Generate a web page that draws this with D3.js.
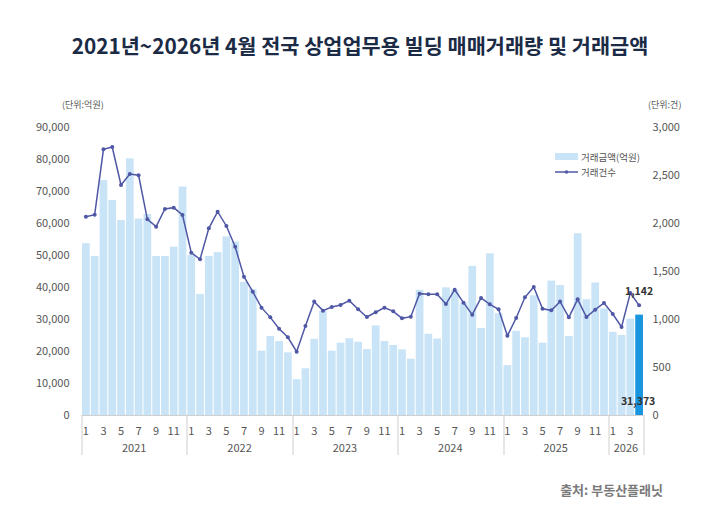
<!DOCTYPE html>
<html>
<head>
<meta charset="utf-8">
<script src="https://cdn.jsdelivr.net/npm/d3@7"></script>
<style>
  body { margin: 0; background: #fff; }
  text { font-family: "Noto Sans CJK KR", "Noto Sans", sans-serif; }
</style>
</head>
<body>
<div id="chart-area"></div>
<script>
// 연도 / 월 구분
const YEARS = ["2021", "2022", "2023", "2024", "2025", "2026"]
const MONTHS_IN_YEAR = [12, 12, 12, 12, 12, 4]

// 거래금액(억원)
const AMOUNTS = [
  53700, 49700, 73400, 67200, 60900, 80200, 61400, 62800, 49700, 49700, 52600, 71400,
  50000, 37800, 49700, 50900, 55800, 54200, 41600, 39300, 20100, 24700, 23100, 19600,
  11200, 14600, 23800, 32600, 20100, 22600, 24000, 22900, 20600, 28000, 23100, 21900,
  20500, 17600, 39100, 25400, 23900, 39900, 39100, 35100, 46600, 27200, 50500, 31800,
  15600, 26300, 24300, 37400, 22600, 42000, 40600, 24700, 56800, 36200, 41400, 33300,
  26000, 25000, 30100, 31373
]

// 거래건수
const COUNTS = [
  2066, 2087, 2767, 2792, 2396, 2510, 2497, 2038, 1962, 2146, 2160, 2083,
  1691, 1622, 1945, 2118, 1969, 1753, 1441, 1285, 1118, 1017, 899, 809,
  660, 927, 1181, 1087, 1125, 1146, 1191, 1101, 1021, 1070, 1118, 1080,
  1007, 1024, 1264, 1257, 1257, 1156, 1305, 1170, 1045, 1219, 1153, 1101,
  826, 1010, 1226, 1333, 1107, 1090, 1181, 1017, 1205, 1021, 1097, 1167,
  1052, 917, 1271, 1142
]

const LEFT_TICKS = [0, 10000, 20000, 30000, 40000, 50000, 60000, 70000, 80000, 90000]
const RIGHT_TICKS = [0, 500, 1000, 1500, 2000, 2500, 3000]

const TITLE = "2021년~2026년 4월 전국 상업업무용 빌딩 매매거래량 및 거래금액"

const SVG_WIDTH = 720
const SVG_HEIGHT = 527
const MARGIN = { left: 81.5, right: 76.5, top: 127, bottom: 112 }
const G_WIDTH = SVG_WIDTH - MARGIN.left - MARGIN.right
const G_HEIGHT = SVG_HEIGHT - MARGIN.top - MARGIN.bottom

// 카테고리 (연-월)
const categories = []
YEARS.forEach((yr, i) => {
  for (let m = 1; m <= MONTHS_IN_YEAR[i]; m++) categories.push({ year: yr, month: m, key: yr + "-" + m })
})
const data = categories.map((c, i) => ({ ...c, amount: AMOUNTS[i], count: COUNTS[i] }))

const svg = d3.select("#chart-area").append("svg")
  .attr("width", SVG_WIDTH)
  .attr("height", SVG_HEIGHT)

svg.append("text")
  .attr("x", SVG_WIDTH / 2)
  .attr("y", 54)
  .attr("text-anchor", "middle")
  .attr("font-size", "20.8px")
  .attr("font-weight", "bold")
  .attr("fill", "#1b2b45")
  .text(TITLE)

const g = svg.append("g")
  .attr("transform", `translate(${MARGIN.left}, ${MARGIN.top})`)

const x = d3.scaleBand()
  .domain(data.map(d => d.key))
  .range([0, G_WIDTH])
  .paddingInner(0.12)
  .paddingOuter(0.06)

const yLeft = d3.scaleLinear().domain([0, 90000]).range([G_HEIGHT, 0])
const yRight = d3.scaleLinear().domain([0, 3000]).range([G_HEIGHT, 0])

// bars
g.selectAll("rect.bar").data(data).enter().append("rect")
  .attr("class", "bar")
  .attr("x", d => x(d.key))
  .attr("width", x.bandwidth())
  .attr("y", d => yLeft(d.amount))
  .attr("height", d => G_HEIGHT - yLeft(d.amount))
  .attr("fill", (d, i) => i === data.length - 1 ? "#1a95df" : "#c9e4f7")

// axes
const leftAxis = d3.axisLeft(yLeft).tickValues(LEFT_TICKS).tickSize(0).tickPadding(12)
  .tickFormat(d3.format(","))
g.append("g").attr("class", "y axis").call(leftAxis)

const rightAxis = d3.axisRight(yRight).tickValues(RIGHT_TICKS).tickSize(0).tickPadding(9)
  .tickFormat(d3.format(","))
g.append("g").attr("class", "y axis").attr("transform", `translate(${G_WIDTH}, 0)`).call(rightAxis)

g.selectAll(".y.axis .domain").remove()
g.selectAll(".y.axis text")
  .attr("font-size", "11px")
  .attr("fill", "#555")
  .style("font-family", "'Noto Sans CJK KR', sans-serif")

// baseline
g.append("line")
  .attr("x1", 0).attr("x2", G_WIDTH)
  .attr("y1", G_HEIGHT + 0.5).attr("y2", G_HEIGHT + 0.5)
  .attr("stroke", "#cfcfcf")

// month labels (odd months)
g.selectAll("text.month").data(data.filter(d => d.month % 2 === 1)).enter().append("text")
  .attr("class", "month")
  .attr("x", d => x(d.key) + x.bandwidth() / 2)
  .attr("y", G_HEIGHT + 20)
  .attr("text-anchor", "middle")
  .attr("font-size", "11px")
  .attr("fill", "#555")
  .text(d => d.month)

// year separators and labels
const yearSpans = YEARS.map(yr => {
  const items = data.filter(d => d.year === yr)
  const first = items[0], last = items[items.length - 1]
  const step = x.step()
  const x0 = x(first.key) - (step - x.bandwidth()) / 2
  const x1 = x(last.key) + x.bandwidth() + (step - x.bandwidth()) / 2
  return { year: yr, x0: x0, x1: x1 }
})
yearSpans[0].x0 = 0
yearSpans[yearSpans.length - 1].x1 = G_WIDTH

const sepX = [0].concat(yearSpans.map(s => s.x1))
g.selectAll("line.sep").data(sepX).enter().append("line")
  .attr("class", "sep")
  .attr("x1", d => Math.round(d) + 0.5).attr("x2", d => Math.round(d) + 0.5)
  .attr("y1", G_HEIGHT).attr("y2", G_HEIGHT + 40)
  .attr("stroke", "#cfcfcf")

g.selectAll("text.year").data(yearSpans).enter().append("text")
  .attr("class", "year")
  .attr("x", d => (d.x0 + d.x1) / 2)
  .attr("y", G_HEIGHT + 37)
  .attr("text-anchor", "middle")
  .attr("font-size", "11px")
  .attr("fill", "#555")
  .text(d => d.year)

// line
const line = d3.line()
  .x(d => x(d.key) + x.bandwidth() / 2)
  .y(d => yRight(d.count))

g.append("path").datum(data)
  .attr("fill", "none")
  .attr("stroke", "#5058a6")
  .attr("stroke-width", 1.5)
  .attr("d", line)

g.selectAll("circle.pt").data(data).enter().append("circle")
  .attr("class", "pt")
  .attr("cx", d => x(d.key) + x.bandwidth() / 2)
  .attr("cy", d => yRight(d.count))
  .attr("r", 2)
  .attr("fill", "#5058a6")

// value labels for the last month
const lastD = data[data.length - 1]
g.append("text")
  .attr("x", x(lastD.key) + x.bandwidth() / 2)
  .attr("y", yRight(lastD.count) - 10)
  .attr("text-anchor", "middle")
  .attr("font-size", "10.5px")
  .attr("font-weight", "bold")
  .attr("fill", "#333")
  .text(d3.format(",")(lastD.count))

g.append("text")
  .attr("x", x(lastD.key) + x.bandwidth() / 2 - 1)
  .attr("y", G_HEIGHT - 10.5)
  .attr("text-anchor", "middle")
  .attr("font-size", "10.5px")
  .attr("font-weight", "bold")
  .attr("fill", "#333")
  .text(d3.format(",")(lastD.amount))

// unit labels
svg.append("text")
  .attr("x", 62).attr("y", 108)
  .attr("font-size", "9px").attr("fill", "#555")
  .text("(단위:억원)")
svg.append("text")
  .attr("x", 648).attr("y", 108)
  .attr("font-size", "9px").attr("fill", "#555")
  .text("(단위:건)")

// legend
const legend = svg.append("g").attr("transform", "translate(555, 0)")
legend.append("rect")
  .attr("x", 0).attr("y", 153).attr("width", 23).attr("height", 7)
  .attr("fill", "#c9e4f7")
legend.append("text")
  .attr("x", 26).attr("y", 160.5)
  .attr("font-size", "9.5px").attr("fill", "#555")
  .text("거래금액(억원)")
legend.append("line")
  .attr("x1", 0).attr("x2", 23).attr("y1", 172).attr("y2", 172)
  .attr("stroke", "#5058a6").attr("stroke-width", 1.5)
legend.append("circle")
  .attr("cx", 11.5).attr("cy", 172).attr("r", 1.8).attr("fill", "#5058a6")
legend.append("text")
  .attr("x", 26).attr("y", 175.5)
  .attr("font-size", "9.5px").attr("fill", "#555")
  .text("거래건수")

// source
svg.append("text")
  .attr("x", 663).attr("y", 495)
  .attr("text-anchor", "end")
  .attr("font-size", "13px")
  .attr("font-weight", "bold")
  .attr("fill", "#7a7a7a")
  .text("출처: 부동산플래닛")
</script>
</body>
</html>
